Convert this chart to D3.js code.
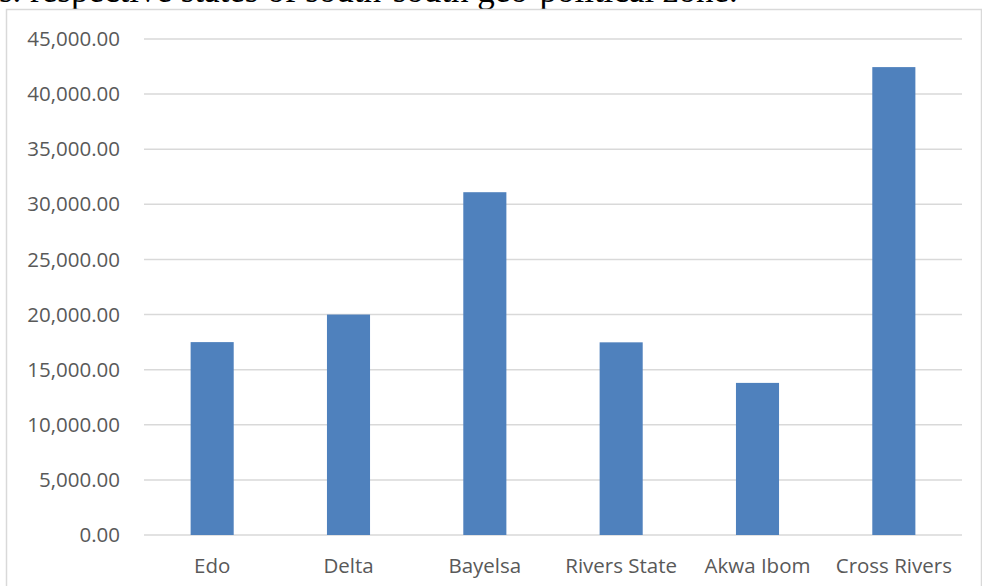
<!DOCTYPE html>
<html>
<head>
<meta charset="utf-8">
<script src="https://cdn.jsdelivr.net/npm/d3@7"></script>
<style>
  body { margin: 0; background: #fff; }
  svg { display: block; }
  .tick text { fill: #595959; font-family: "Open Sans", "Noto Sans", sans-serif; font-size: 20.5px; }
  .grid line { stroke: #d9d9d9; stroke-width: 1.5; }
</style>
</head>
<body>
<svg id="chart" width="982" height="586"></svg>
<script>
// --- Data ---
const states = ["Edo", "Delta", "Bayelsa", "Rivers State", "Akwa Ibom", "Cross Rivers"];
const values = [17500, 20000, 31100, 17480, 13800, 42450];
const yTicks = [0, 5000, 10000, 15000, 20000, 25000, 30000, 35000, 40000, 45000];
const caption = "s. respective states of south-south geo-political zone.";

(function () {
    "use strict";

    var svg = d3.select("#chart");
    var margin = { top: 39, right: 20, bottom: 51, left: 144 };
    var width = 962 - margin.left;
    var height = 535 - margin.top;

    // caption cut off by the crop, only the lower part shows
    svg.append("text")
        .attr("x", -1).attr("y", 2)
        .attr("font-family", "Liberation Serif, Times New Roman, serif")
        .attr("font-size", 35)
        .attr("fill", "#000")
        .text(caption);

    // chart area frame
    svg.append("rect")
        .attr("x", 6.5).attr("y", 9.5)
        .attr("width", 975).attr("height", 600)
        .attr("fill", "none")
        .attr("stroke", "#d9d9d9")
        .attr("stroke-width", 1.5);

    var g = svg.append("g")
        .attr("transform", "translate(" + margin.left + "," + margin.top + ")");

    var x = d3.scaleBand().domain(states).range([0, width]).padding(0);
    var y = d3.scaleLinear().domain([0, 45000]).range([height, 0]);

    // gridlines
    g.append("g")
        .attr("class", "grid")
        .selectAll("line")
        .data(yTicks)
        .join("line")
        .attr("x1", 0).attr("x2", width)
        .attr("y1", function (d) { return y(d); })
        .attr("y2", function (d) { return y(d); });

    // y axis labels
    var yAxis = g.append("g")
        .attr("transform", "translate(-24,0)")
        .call(d3.axisLeft(y).tickValues(yTicks).tickSize(0).tickPadding(0)
            .tickFormat(d3.format(",.2f")));
    yAxis.select(".domain").remove();

    // bars
    var barW = x.bandwidth() * 0.316;
    g.selectAll(".bar")
        .data(values)
        .join("rect")
        .attr("class", "bar")
        .attr("x", function (d, i) { return x(states[i]) + (x.bandwidth() - barW) / 2; })
        .attr("width", barW)
        .attr("y", function (d) { return y(d); })
        .attr("height", function (d) { return height - y(d); })
        .attr("fill", "#4f81bd");

    // x axis labels
    var xAxis = g.append("g")
        .attr("transform", "translate(0," + height + ")")
        .call(d3.axisBottom(x).tickSize(0).tickPadding(23));
    xAxis.select(".domain").remove();
})();
</script>
</body>
</html>
